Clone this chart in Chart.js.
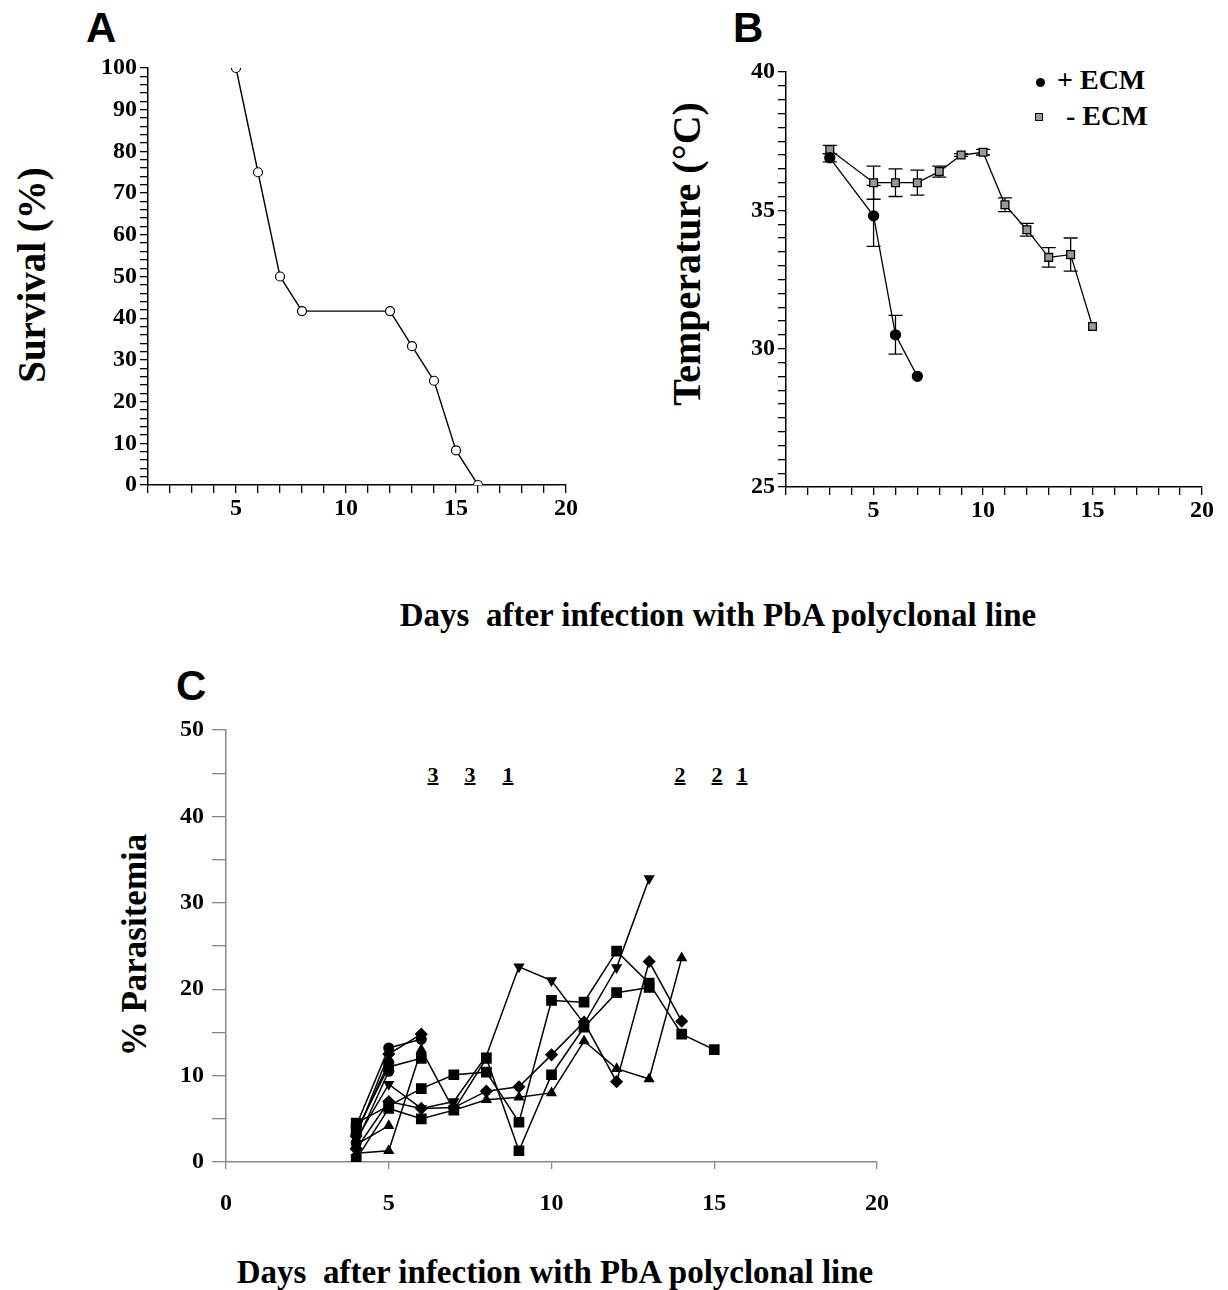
<!DOCTYPE html>
<html lang="en">
<head>
  <meta charset="UTF-8">
  <title>Survival, temperature and parasitemia after PbA infection</title>
  <style>
    body {
      margin: 0;
      background: #fff;
      width: 1228px;
      height: 1290px;
      position: relative;
      overflow: hidden;
      font-family: "Liberation Serif", "Times New Roman", serif;
    }
    canvas { position: absolute; }
    .panel {
      position: absolute;
      font-family: "Liberation Sans", Arial, sans-serif;
      font-weight: bold;
      font-size: 42px;
      line-height: 48px;
    }
    .ytitle {
      position: absolute;
      font-weight: bold;
      white-space: nowrap;
      transform: translate(-50%, -50%) rotate(-90deg);
    }
    .xtitle {
      position: absolute;
      font-weight: bold;
      font-size: 33px;
      white-space: pre;
      transform: translateX(-50%);
    }
    .legend {
      position: absolute;
      font-weight: bold;
      font-size: 28px;
      white-space: pre;
    }
    .dot {
      position: absolute;
      width: 9px; height: 9px;
      border-radius: 50%;
      background: #000;
    }
    .sq {
      position: absolute;
      width: 6px; height: 6px;
      border: 1.5px solid #000;
      background: #999;
    }
    .note {
      position: absolute;
      font-weight: bold;
      font-size: 22px;
      text-decoration: underline;
      text-decoration-thickness: 2px;
      transform: translate(-50%, -50%);
    }
  </style>
  <script src="https://cdn.jsdelivr.net/npm/chart.js"></script>
</head>
<body>
  <div class="panel" style="left:86px; top:4px;">A</div>
  <div class="panel" style="left:733px; top:4px;">B</div>
  <div class="panel" style="left:176px; top:662px;">C</div>

  <div class="ytitle" style="left:31px; top:275px; font-size:39px;">Survival (%)</div>
  <div class="ytitle" style="left:686px; top:254px; font-size:40px;">Temperature (°C)</div>
  <div class="ytitle" style="left:135px; top:945px; font-size:35px;">% Parasitemia</div>

  <div class="xtitle" style="left:718px; top:597px;">Days  after infection with PbA polyclonal line</div>
  <div class="xtitle" style="left:555px; top:1254px;">Days  after infection with PbA polyclonal line</div>

  <div class="dot" style="left:1036px; top:78px;"></div>
  <div class="legend" style="left:1057px; top:64px;">+ ECM</div>
  <div class="sq" style="left:1035px; top:113px;"></div>
  <div class="legend" style="left:1066px; top:100px;">- ECM</div>

  <div class="note" style="left:433px; top:775px;">3</div>
  <div class="note" style="left:470px; top:775px;">3</div>
  <div class="note" style="left:508px; top:775px;">1</div>
  <div class="note" style="left:680px; top:775px;">2</div>
  <div class="note" style="left:717px; top:775px;">2</div>
  <div class="note" style="left:742px; top:775px;">1</div>

  <canvas id="chartA" width="600" height="500" style="left:0; top:40px;"></canvas>
  <canvas id="chartB" width="608" height="500" style="left:620px; top:40px;"></canvas>
  <canvas id="chartC" width="760" height="530" style="left:150px; top:700px;"></canvas>

  <script>
    // --- A: survival ---
    const daysA = [5, 6, 7, 8, 12, 13, 14, 15, 16];
    const survival = [100, 75, 50, 41.7, 41.7, 33.3, 25, 8.3, 0];

    // --- B: temperature (mean and error) ---
    const daysPos = [3, 5, 6, 7];
    const tempPos = [36.9, 34.8, 30.5, 29.0];
    const errPos = [0.15, 1.1, 0.7, 0];
    const daysNeg = [3, 5, 6, 7, 8, 9, 10, 11, 12, 13, 14, 15];
    const tempNeg = [37.2, 36.0, 36.0, 36.0, 36.4, 37.0, 37.1, 35.2, 34.3, 33.3, 33.4, 30.8];
    const errNeg = [0.15, 0.6, 0.5, 0.45, 0.2, 0.05, 0.1, 0.25, 0.23, 0.35, 0.6, 0];

    // --- C: parasitemia per mouse, starting at day 4 ---
    const firstDayC = 4;
    const mouse1 = [2.6, 9.0, 6.2, 7.0, 12.3, 22.6, 21.0, 16.0, 22.5, 32.8];
    const mouse2 = [4.5, 6.5, 8.5, 10.1, 10.4, 4.6, 18.7, 18.5, 24.4, 20.7, 14.8, 13.0];
    const mouse3 = [0.3, 6.2, 5.0, 6.0, 12.0, 1.3, 10.1, 15.6, 19.6, 20.2];
    const mouse4 = [1.0, 1.3, 13.0, 6.0, 7.2, 7.5, 8.0, 14.0, 10.8, 9.6, 23.6];
    const mouse5 = [1.5, 7.0, 6.2, 6.3, 8.2, 8.7, 12.4, 16.2, 9.3, 23.2, 16.3];
    const mouse6 = [3.0, 12.5, 14.8];
    const mouse7 = [4.2, 13.2, 14.2];
    const mouse8 = [3.6, 11.0, 12.0];
    const mouse9 = [2.2, 10.5];
    const mouse10 = [2.0, 4.2];
    const mouse11 = [3.3, 11.5];

    Chart.defaults.font.family = '"Liberation Serif", "Times New Roman", serif';
    Chart.defaults.font.weight = 'bold';
    Chart.defaults.font.size = 24;
    Chart.defaults.color = '#000';

    const pairs = (xs, ys) => xs.map((x, i) => ({ x: x, y: ys[i] }));
    const fromDay = (start, ys) => ys.map((y, i) => ({ x: start + i, y: y }));

    const errorBars = {
      id: 'errorBars',
      beforeDatasetsDraw(chart) {
        const ctx = chart.ctx;
        const ys = chart.scales.y;
        chart.data.datasets.forEach((ds, i) => {
          if (!ds.errors) return;
          const meta = chart.getDatasetMeta(i);
          ctx.save();
          ctx.strokeStyle = '#000';
          ctx.lineWidth = 1.3;
          meta.data.forEach((pt, j) => {
            const e = ds.errors[j];
            if (!e) return;
            const v = ds.data[j].y;
            const top = ys.getPixelForValue(v + e);
            const bot = ys.getPixelForValue(v - e);
            ctx.beginPath();
            ctx.moveTo(pt.x, top); ctx.lineTo(pt.x, bot);
            ctx.moveTo(pt.x - 7, top); ctx.lineTo(pt.x + 7, top);
            ctx.moveTo(pt.x - 7, bot); ctx.lineTo(pt.x + 7, bot);
            ctx.stroke();
          });
          ctx.restore();
        });
      }
    };

    function dayAxis(min, max, step, labelEvery, height, color, pad) {
      return {
        type: 'linear', min: min, max: max,
        ticks: {
          stepSize: step, autoSkip: false, maxRotation: 0, padding: pad,
          callback: v => (v % labelEvery === 0 ? v : '')
        },
        grid: { drawOnChartArea: false, tickLength: 8, color: color, lineWidth: 1.3 },
        border: { color: color, width: 1.5 },
        afterFit: s => { s.height = height; }
      };
    }

    function valueAxis(min, max, step, labelEvery, width, color, tickLen) {
      return {
        type: 'linear', min: min, max: max,
        ticks: {
          stepSize: step, autoSkip: false, padding: 3,
          callback: v => (Math.abs(v % labelEvery) < 1e-9 ? v : '')
        },
        grid: { drawOnChartArea: false, tickLength: tickLen, color: color, lineWidth: 1.3 },
        border: { color: color, width: 1.5 },
        afterFit: s => { s.width = width; }
      };
    }

    const baseOptions = {
      responsive: false,
      animation: false,
      plugins: { legend: { display: false }, tooltip: { enabled: false } }
    };

    // Panel A
    new Chart(document.getElementById('chartA'), {
      type: 'line',
      data: {
        datasets: [{
          data: pairs(daysA, survival),
          borderColor: '#000', borderWidth: 1.4,
          pointStyle: 'circle', pointRadius: 4.5,
          pointBackgroundColor: '#fff', pointBorderColor: '#000', pointBorderWidth: 1.2,
          tension: 0
        }]
      },
      options: Object.assign({}, baseOptions, {
        layout: { padding: { top: 28, right: 34, bottom: 0, left: 0 } },
        scales: {
          x: dayAxis(1, 20, 1, 5, 55, '#000', 1),
          y: valueAxis(0, 100, 2, 10, 148, '#000', 8)
        }
      })
    });

    // Panel B
    new Chart(document.getElementById('chartB'), {
      type: 'line',
      data: {
        datasets: [{
          data: pairs(daysPos, tempPos),
          errors: errPos,
          borderColor: '#000', borderWidth: 1.3,
          pointStyle: 'circle', pointRadius: 5,
          pointBackgroundColor: '#000', pointBorderColor: '#000',
          tension: 0
        }, {
          data: pairs(daysNeg, tempNeg),
          errors: errNeg,
          borderColor: '#000', borderWidth: 1.3,
          pointStyle: 'rect', pointRadius: 5.5,
          pointBackgroundColor: '#999', pointBorderColor: '#000', pointBorderWidth: 1.3,
          tension: 0
        }]
      },
      options: Object.assign({}, baseOptions, {
        layout: { padding: { top: 32, right: 26, bottom: 0, left: 0 } },
        scales: {
          x: dayAxis(1, 20, 1, 5, 53, '#000', 1),
          y: valueAxis(25, 40, 0.5, 5, 166, '#000', 8)
        }
      }),
      plugins: [errorBars]
    });

    // Panel C: [values, marker, rotation, radius]
    const mice = [
      [mouse1, 'triangle', 180, 5],
      [mouse2, 'rect', 0, 6.5],
      [mouse3, 'rect', 0, 6.5],
      [mouse4, 'triangle', 0, 5],
      [mouse5, 'rectRot', 0, 5.5],
      [mouse6, 'rectRot', 0, 5.5],
      [mouse7, 'circle', 0, 4.8],
      [mouse8, 'rect', 0, 6.5],
      [mouse9, 'circle', 0, 4.8],
      [mouse10, 'triangle', 0, 5],
      [mouse11, 'circle', 0, 4.8]
    ];

    const xC = dayAxis(0, 20, 5, 5, 68, '#888', 20);
    xC.grid.tickLength = 7;
    const yC = valueAxis(0, 50, 5, 10, 76, '#888', 14);
    yC.ticks.padding = 8;

    new Chart(document.getElementById('chartC'), {
      type: 'line',
      data: {
        datasets: mice.map(m => ({
          data: fromDay(firstDayC, m[0]),
          borderColor: '#000', borderWidth: 1.5,
          pointStyle: m[1], pointRotation: m[2], pointRadius: m[3],
          pointBackgroundColor: '#000', pointBorderColor: '#000',
          tension: 0
        }))
      },
      options: Object.assign({}, baseOptions, {
        layout: { padding: { top: 30, right: 33, bottom: 0, left: 0 } },
        scales: { x: xC, y: yC }
      })
    });
  </script>
</body>
</html>
